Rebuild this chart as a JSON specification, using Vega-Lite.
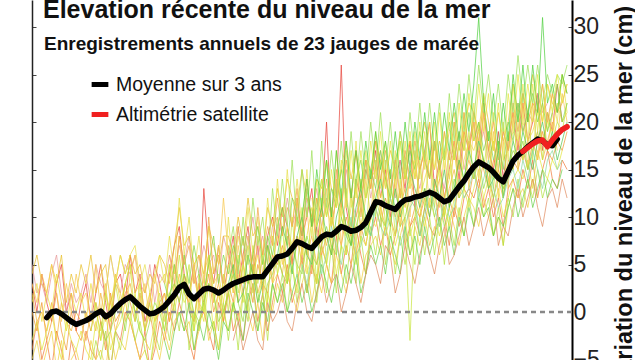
{
"$schema":"https://vega.github.io/schema/vega-lite/v6.json",
"width":540,"height":360,
"autosize":{"type":"none"},
"padding":{"left":32,"top":0,"right":63,"bottom":0},
"background":"white",
"config":{"view":{"stroke":null},"font":"Liberation Sans"},
"datasets":{
"gauges":[
{"g":"a","1900":3,"1901":0,"1902":4,"1903":1,"1904":-1,"1905":3,"1906":5,"1907":0,"1908":2,"1909":-2,"1910":1,"1911":3,"1912":-1,"1913":2,"1914":5,"1915":1,"1916":-2,"1917":3,"1918":4,"1919":1,"1920":6,"1921":2,"1922":4,"1923":-1,"1924":1,"1925":5,"1926":3,"1927":0,"1928":4,"1929":7,"1930":9,"1931":4,"1932":2,"1933":5,"1934":1,"1935":13,"1936":6,"1937":3,"1938":7,"1939":2,"1940":5,"1941":8,"1942":3,"1943":6,"1944":9,"1945":4,"1946":7,"1947":2,"1948":8,"1949":10,"1950":7,"1951":11,"1952":9,"1953":5,"1954":12,"1955":8,"1956":10,"1957":13,"1958":7,"1959":11,"1960":20,"1961":9,"1962":12,"1963":26,"1964":11,"1965":8,"1966":14,"1967":12,"1968":15,"1969":13,"1970":17,"1971":12,"1972":15,"1973":10,"1974":14,"1975":16,"1976":13,"1977":18,"1978":11,"1979":15,"1980":17,"1981":20,"1982":13,"1983":16,"1984":12,"1985":15,"1986":18,"1987":14,"1988":19,"1989":17,"1990":20,"1991":16,"1992":21,"1993":17,"1994":15,"1995":19,"1996":14,"1997":18,"1998":21,"1999":17,"2000":22,"2001":18,"2002":20,"2003":23,"2004":17,"2005":21,"2006":19,"2007":24,"2008":20},
{"g":"b","1900":-4,"1901":-1,"1902":-5,"1903":-3,"1904":-6,"1905":-2,"1906":-4,"1907":-7,"1908":-3,"1909":-5,"1910":-6,"1911":-2,"1912":-4,"1913":-5,"1914":-1,"1915":-3,"1916":-6,"1917":-2,"1918":-3,"1919":0,"1920":-1,"1921":-3,"1922":-5,"1923":-2,"1924":-6,"1925":-4,"1926":-1,"1927":-3,"1928":0,"1929":-2,"1930":1,"1931":-1,"1932":-3,"1933":-5,"1934":-1,"1935":0,"1936":-2,"1937":-4,"1938":1,"1939":-1,"1940":2,"1941":-2,"1942":0,"1943":-3,"1944":1,"1945":3,"1946":-1,"1947":2,"1948":-2,"1949":1,"1950":4,"1951":2,"1952":5,"1953":1,"1954":3,"1955":6,"1956":2,"1957":5,"1958":3,"1959":7,"1960":5,"1961":3,"1962":8,"1963":4,"1964":7,"1965":5,"1966":9,"1967":6,"1968":4,"1969":8,"1970":10,"1971":7,"1972":9,"1973":6,"1974":8,"1975":11,"1976":7,"1977":9,"1978":10,"1979":8,"1980":11,"1981":9,"1982":8,"1983":12,"1984":10,"1985":7,"1986":11,"1987":9,"1988":12,"1989":13,"1990":12,"1991":14,"1992":11,"1993":13,"1994":10,"1995":12,"1996":9,"1997":13,"1998":14,"1999":12,"2000":15,"2001":13,"2002":16,"2003":12,"2004":15,"2005":17,"2006":14,"2007":13,"2008":16,"2009":15},
{"g":"c","1900":5,"1901":2,"1902":3,"1903":1,"1904":4,"1905":6,"1906":2,"1907":0,"1908":3,"1909":1,"1910":2,"1911":4,"1912":1,"1913":5,"1914":3,"1915":2,"1916":6,"1917":3,"1918":2,"1919":5,"1920":4,"1921":6,"1922":3,"1923":2,"1924":5,"1925":1,"1926":4,"1927":3,"1928":6,"1929":4,"1930":7,"1931":5,"1932":8,"1933":3,"1934":4,"1935":7,"1936":5,"1937":6,"1938":3,"1939":8,"1940":6,"1941":4,"1942":9,"1943":5,"1944":7,"1945":10,"1946":6,"1947":8,"1948":5,"1949":9,"1950":10,"1951":8,"1952":12,"1953":9,"1954":11,"1955":8,"1956":12,"1957":10,"1958":13,"1959":9,"1960":12,"1961":10,"1962":14,"1963":11,"1964":15,"1965":12,"1966":10,"1967":13,"1968":16,"1969":12,"1970":15,"1971":17,"1972":13,"1973":15,"1974":12,"1975":16,"1976":14,"1977":17,"1978":15,"1979":13,"1980":16,"1981":14,"1982":18,"1983":15,"1984":13,"1985":17,"1986":16,"1987":19,"1988":15,"1989":18,"1990":20,"1991":17,"1992":19,"1993":16,"1994":18,"1995":15,"1996":19,"1997":17,"1998":20,"1999":22,"2000":19,"2001":21,"2002":20,"2003":23,"2004":21,"2005":22},
{"g":"d","1900":0,"1901":-2,"1902":1,"1903":-3,"1904":-1,"1905":2,"1906":-2,"1907":-4,"1908":0,"1909":-2,"1910":-3,"1911":0,"1912":-2,"1913":1,"1914":-1,"1915":-4,"1916":2,"1917":-1,"1918":0,"1919":3,"1920":1,"1921":-1,"1922":2,"1923":-2,"1924":0,"1925":-3,"1926":1,"1927":2,"1928":-1,"1929":3,"1930":1,"1931":4,"1932":0,"1933":-1,"1934":3,"1935":1,"1936":4,"1937":0,"1938":2,"1939":-1,"1940":3,"1941":1,"1942":5,"1943":2,"1944":4,"1945":1,"1946":5,"1947":3,"1948":2,"1949":6,"1950":5,"1951":7,"1952":4,"1953":6,"1954":8,"1955":5,"1956":7,"1957":4,"1958":9,"1959":6,"1960":8,"1961":6,"1962":9,"1963":7,"1964":10,"1965":8,"1966":6,"1967":9,"1968":7,"1969":10,"1970":11,"1971":9,"1972":12,"1973":10,"1974":8,"1975":11,"1976":13,"1977":9,"1978":11,"1979":10,"1980":12,"1981":10,"1982":13,"1983":9,"1984":11,"1985":12,"1986":10,"1987":14,"1988":13,"1989":12,"1990":15,"1991":13,"1992":16,"1993":14,"1994":12,"1995":15,"1996":13,"1997":14,"1998":16,"1999":15,"2000":17,"2001":15,"2002":18,"2003":16,"2004":19,"2005":17,"2006":16,"2007":18,"2008":17,"2009":19},
{"g":"e","1900":2,"1901":-1,"1902":0,"1903":-2,"1904":1,"1905":-3,"1906":1,"1907":-1,"1908":-2,"1909":0,"1910":-1,"1911":-3,"1912":0,"1913":-2,"1914":2,"1915":-1,"1916":1,"1917":-2,"1918":0,"1919":2,"1920":3,"1921":0,"1922":1,"1923":-2,"1924":2,"1925":-1,"1926":0,"1927":2,"1928":-1,"1929":1,"1930":4,"1931":2,"1932":1,"1933":-1,"1934":3,"1935":2,"1936":5,"1937":1,"1938":3,"1939":0,"1940":2,"1941":4,"1942":1,"1943":5,"1944":3,"1945":6,"1946":2,"1947":4,"1948":7,"1949":3,"1950":6,"1951":4,"1952":8,"1953":5,"1954":7,"1955":9,"1956":6,"1957":8,"1958":5,"1959":9,"1960":7,"1961":10,"1962":8,"1963":11,"1964":9,"1965":7,"1966":10,"1967":12,"1968":8,"1969":10,"1970":13,"1971":11,"1972":9,"1973":12,"1974":10,"1975":13,"1976":11,"1977":14,"1978":12,"1979":10,"1980":13,"1981":11,"1982":12,"1983":14,"1984":10,"1985":13,"1986":15,"1987":12,"1988":14,"1989":16,"1990":14,"1991":17,"1992":15,"1993":13,"1994":16,"1995":14,"1996":12,"1997":16,"1998":15,"1999":18,"2000":16,"2001":18,"2002":17,"2003":19,"2004":16,"2005":18,"2006":20,"2007":17},
{"g":"f","1900":4,"1901":6,"1902":3,"1903":2,"1904":5,"1905":3,"1906":6,"1907":1,"1908":4,"1909":2,"1910":5,"1911":3,"1912":6,"1913":2,"1914":4,"1915":5,"1916":1,"1917":3,"1918":6,"1919":4,"1920":6,"1921":4,"1922":5,"1923":2,"1924":4,"1925":3,"1926":6,"1927":5,"1928":3,"1929":7,"1930":11,"1931":7,"1932":8,"1933":5,"1934":6,"1935":4,"1936":9,"1937":7,"1938":5,"1939":8,"1940":8,"1941":6,"1942":10,"1943":7,"1944":12,"1945":8,"1946":9,"1947":6,"1948":11,"1949":9,"1950":13,"1951":10,"1952":14,"1953":12,"1954":11,"1955":15,"1956":12,"1957":10,"1958":14,"1959":13,"1960":16,"1961":13,"1962":12,"1963":15,"1964":18,"1965":14,"1966":17,"1967":13,"1968":16,"1969":15,"1970":18,"1971":16,"1972":14,"1973":17,"1974":15,"1975":19,"1976":16,"1977":18,"1978":14,"1979":17,"1980":20,"1981":17,"1982":15,"1983":18,"1984":16,"1985":19,"1986":21,"1987":17,"1988":19,"1989":22,"1990":21,"1991":19,"1992":23,"1993":20,"1994":17,"1995":21,"1996":18,"1997":20,"1998":24,"1999":21,"2000":23,"2001":21,"2002":25,"2003":22,"2004":20,"2005":24,"2006":22,"2007":21,"2008":25,"2009":23},
{"g":"g","1900":-5,"1901":-3,"1902":-6,"1903":-4,"1904":-2,"1905":-6,"1906":-3,"1907":-7,"1908":-5,"1909":-4,"1910":-6,"1911":-7,"1912":-3,"1913":-5,"1914":-4,"1915":-6,"1916":-2,"1917":-5,"1918":-3,"1919":-4,"1920":-1,"1921":-3,"1922":-5,"1923":-4,"1924":-6,"1925":-3,"1926":-5,"1927":-2,"1928":-4,"1929":-1,"1930":0,"1931":-2,"1932":-1,"1933":-4,"1934":-2,"1935":1,"1936":-3,"1937":-1,"1938":-4,"1939":0,"1940":-2,"1941":1,"1942":-1,"1943":2,"1944":0,"1945":-2,"1946":1,"1947":-3,"1948":2,"1949":0,"1950":3,"1951":1,"1952":4,"1953":2,"1954":0,"1955":3,"1956":5,"1957":1,"1958":4,"1959":2,"1960":5,"1961":3,"1962":6,"1963":4,"1964":2,"1965":5,"1966":7,"1967":3,"1968":6,"1969":7,"1970":8,"1971":6,"1972":9,"1973":7,"1974":5,"1975":8,"1976":10,"1977":6,"1978":9,"1979":7,"1980":10,"1981":7,"1982":9,"1983":6,"1984":8,"1985":11,"1986":9,"1987":7,"1988":10,"1989":12,"1990":11,"1991":9,"1992":12,"1993":10,"1994":8,"1995":10,"1996":7,"1997":11,"1998":13,"1999":12,"2000":13,"2001":11,"2002":14,"2003":12},
{"g":"h","1900":1,"1901":3,"1902":-1,"1903":2,"1904":0,"1905":4,"1906":1,"1907":-2,"1908":2,"1909":0,"1910":2,"1911":-1,"1912":3,"1913":0,"1914":-2,"1915":2,"1916":0,"1917":4,"1918":1,"1919":3,"1920":5,"1921":2,"1922":3,"1923":0,"1924":2,"1925":-1,"1926":3,"1927":4,"1928":1,"1929":5,"1930":3,"1931":6,"1932":2,"1933":4,"1934":1,"1935":0,"1936":6,"1937":3,"1938":4,"1939":1,"1940":5,"1941":2,"1942":6,"1943":3,"1944":7,"1945":4,"1946":6,"1947":2,"1948":7,"1949":5,"1950":8,"1951":6,"1952":9,"1953":7,"1954":10,"1955":6,"1956":8,"1957":11,"1958":7,"1959":9,"1960":11,"1961":9,"1962":12,"1963":10,"1964":8,"1965":11,"1966":13,"1967":9,"1968":12,"1969":14,"1970":15,"1971":12,"1972":14,"1973":11,"1974":13,"1975":10,"1976":15,"1977":13,"1978":16,"1979":12,"1980":14,"1981":16,"1982":13,"1983":15,"1984":12,"1985":14,"1986":17,"1987":13,"1988":16,"1989":18,"1990":17,"1991":19,"1992":16,"1993":15,"1994":18,"1995":14,"1996":16,"1997":17,"1998":19,"1999":18,"2000":20,"2001":18,"2002":19,"2003":21,"2004":18,"2005":20,"2006":19,"2007":22,"2008":20,"2009":21},
{"g":"i","1900":-3,"1901":-1,"1902":-4,"1903":-2,"1904":0,"1905":-3,"1906":-5,"1907":-1,"1908":-3,"1909":-4,"1910":-2,"1911":-4,"1912":-5,"1913":-1,"1914":-3,"1915":0,"1916":-4,"1917":-2,"1918":-1,"1919":1,"1920":-1,"1921":2,"1922":-2,"1923":-3,"1924":-4,"1925":-1,"1926":1,"1927":-2,"1928":2,"1929":0,"1930":3,"1931":1,"1932":2,"1933":-2,"1934":1,"1935":-1,"1936":3,"1937":-2,"1938":2,"1939":0,"1940":2,"1941":0,"1942":4,"1943":1,"1944":3,"1945":5,"1946":1,"1947":4,"1948":0,"1949":3,"1950":4,"1951":6,"1952":3,"1953":5,"1954":2,"1955":7,"1956":4,"1957":6,"1958":3,"1959":7,"1960":5,"1961":8,"1962":4,"1963":7,"1964":6,"1965":9,"1966":5,"1967":8,"1968":7,"1969":10,"1970":9,"1971":11,"1972":8,"1973":10,"1974":7,"1975":9,"1976":12,"1977":8,"1978":10,"1979":11,"1980":9,"1981":12,"1982":10,"1983":8,"1984":11,"1985":9,"1986":12,"1987":10,"1988":13,"1989":11,"1990":13,"1991":15,"1992":12,"1993":14,"1994":11,"1995":13,"1996":10,"1997":12,"1998":14,"1999":15,"2000":14,"2001":16,"2002":13,"2003":17,"2004":15,"2005":14,"2006":16,"2007":15,"2008":17},
{"g":"j","1900":3,"1901":1,"1902":4,"1903":2,"1904":5,"1905":2,"1906":-1,"1907":3,"1908":0,"1909":4,"1910":1,"1911":2,"1912":-1,"1913":5,"1914":0,"1915":3,"1916":-2,"1917":4,"1918":2,"1919":-1,"1920":4,"1921":6,"1922":1,"1923":3,"1924":-1,"1925":4,"1926":1,"1927":-1,"1928":5,"1929":2,"1930":8,"1931":3,"1932":1,"1933":5,"1934":0,"1935":4,"1936":6,"1937":1,"1938":5,"1939":12,"1940":6,"1941":2,"1942":7,"1943":3,"1944":6,"1945":2,"1946":8,"1947":4,"1948":7,"1949":3,"1950":10,"1951":5,"1952":9,"1953":6,"1954":12,"1955":6,"1956":11,"1957":5,"1958":12,"1959":7,"1960":13,"1961":6,"1962":14,"1963":7,"1964":13,"1965":8,"1966":14,"1967":8,"1968":14,"1969":10,"1970":16,"1971":10,"1972":16,"1973":9,"1974":15,"1975":9,"1976":16,"1977":10,"1978":17,"1979":11,"1980":17,"1981":11,"1982":18,"1983":11,"1984":17,"1985":11,"1986":18,"1987":12,"1988":19,"1989":13,"1990":20,"1991":14,"1992":21,"1993":13,"1994":19,"1995":12,"1996":18,"1997":13,"1998":21,"1999":15,"2000":22,"2001":15,"2002":22,"2003":16,"2004":22,"2005":17,"2006":21,"2007":18,"2008":23,"2009":20},
{"g":"k","1912":-2,"1913":1,"1914":-3,"1915":2,"1916":-1,"1917":3,"1918":0,"1919":3,"1920":5,"1921":-1,"1922":3,"1923":-2,"1924":1,"1925":-2,"1926":2,"1927":0,"1928":5,"1929":1,"1930":6,"1931":2,"1932":5,"1933":-2,"1934":4,"1935":0,"1936":6,"1937":2,"1938":-2,"1939":4,"1940":0,"1941":6,"1942":2,"1943":5,"1944":0,"1945":7,"1946":3,"1947":6,"1948":1,"1949":8,"1950":4,"1951":9,"1952":3,"1953":10,"1954":4,"1955":11,"1956":5,"1957":10,"1958":3,"1959":12,"1960":5,"1961":11,"1962":6,"1963":13,"1964":6,"1965":13,"1966":7,"1967":14,"1968":8,"1969":15,"1970":10,"1971":16,"1972":9,"1973":15,"1974":8,"1975":14,"1976":9,"1977":-3,"1978":10,"1979":16,"1980":11,"1981":17,"1982":11,"1983":16,"1984":10,"1985":17,"1986":12,"1987":18,"1988":13,"1989":19,"1990":14,"1991":20,"1992":15,"1993":19,"1994":13,"1995":18,"1996":12,"1997":19,"1998":15,"1999":21,"2000":16,"2001":21,"2002":16,"2003":22,"2004":16,"2005":21,"2006":18,"2007":20,"2008":19,"2009":22},
{"g":"l","1912":-6,"1913":-3,"1914":-5,"1915":-2,"1916":-6,"1917":-2,"1918":-4,"1919":-1,"1920":0,"1921":-3,"1922":-1,"1923":-4,"1924":-6,"1925":-2,"1926":-4,"1927":0,"1928":-3,"1929":1,"1930":-2,"1931":3,"1932":-4,"1933":0,"1934":-2,"1935":2,"1936":-2,"1937":-1,"1938":-4,"1939":1,"1940":-3,"1941":1,"1942":-4,"1943":2,"1944":-1,"1945":3,"1946":-2,"1947":2,"1948":-3,"1949":3,"1950":1,"1951":4,"1952":0,"1953":5,"1954":1,"1955":5,"1956":2,"1957":6,"1958":1,"1959":6,"1960":2,"1961":7,"1962":2,"1963":7,"1964":3,"1965":8,"1966":3,"1967":8,"1968":4,"1969":9,"1970":6,"1971":10,"1972":5,"1973":9,"1974":4,"1975":8,"1976":5,"1977":9,"1978":5,"1979":10,"1980":6,"1981":10,"1982":6,"1983":10,"1984":5,"1985":10,"1986":7,"1987":11,"1988":8,"1989":12,"1990":9,"1991":13,"1992":10,"1993":12,"1994":8,"1995":11,"1996":7,"1997":12,"1998":10,"1999":14,"2000":11,"2001":14,"2002":12,"2003":15,"2004":12,"2005":14,"2006":13},
{"g":"m","1914":5,"1915":2,"1916":6,"1917":3,"1918":6,"1919":4,"1920":6,"1921":7,"1922":3,"1923":5,"1924":2,"1925":4,"1926":6,"1927":3,"1928":8,"1929":4,"1930":12,"1931":6,"1932":10,"1933":4,"1934":8,"1935":3,"1936":9,"1937":4,"1938":7,"1939":2,"1940":10,"1941":4,"1942":8,"1943":5,"1944":11,"1945":6,"1946":10,"1947":5,"1948":12,"1949":7,"1950":14,"1951":8,"1952":15,"1953":9,"1954":14,"1955":9,"1956":15,"1957":8,"1958":14,"1959":10,"1960":16,"1961":9,"1962":17,"1963":10,"1964":17,"1965":11,"1966":18,"1967":11,"1968":17,"1969":13,"1970":19,"1971":13,"1972":18,"1973":12,"1974":17,"1975":12,"1976":18,"1977":13,"1978":19,"1979":14,"1980":19,"1981":14,"1982":20,"1983":14,"1984":19,"1985":14,"1986":20,"1987":15,"1988":21,"1989":16,"1990":22,"1991":17,"1992":23,"1993":16,"1994":21,"1995":15,"1996":20,"1997":16,"1998":24,"1999":18,"2000":24,"2001":18,"2002":24,"2003":19,"2004":24,"2005":19,"2006":23,"2007":20,"2008":25,"2009":21},
{"g":"n","1914":-1,"1915":-3,"1916":-2,"1917":0,"1918":1,"1919":-2,"1920":2,"1921":0,"1922":-2,"1923":-3,"1924":-1,"1925":1,"1926":0,"1927":-2,"1928":2,"1929":3,"1930":1,"1931":4,"1932":2,"1933":0,"1934":-1,"1935":1,"1936":3,"1937":2,"1938":-1,"1939":0,"1940":2,"1941":4,"1942":1,"1943":-1,"1944":3,"1945":5,"1946":2,"1947":0,"1948":3,"1949":4,"1950":6,"1951":4,"1952":3,"1953":7,"1954":5,"1955":4,"1956":8,"1957":6,"1958":5,"1959":7,"1960":9,"1961":7,"1962":6,"1963":10,"1964":8,"1965":7,"1966":9,"1967":11,"1968":8,"1969":10,"1970":12,"1971":10,"1972":9,"1973":13,"1974":11,"1975":9,"1976":10,"1977":12,"1978":11,"1979":8,"1980":11,"1981":13,"1982":10,"1983":12,"1984":9,"1985":11,"1986":14,"1987":12,"1988":13,"1989":15,"1990":14,"1991":16,"1992":13,"1993":15,"1994":12,"1995":14,"1996":13,"1997":15,"1998":17,"1999":16,"2000":18,"2001":15,"2002":17,"2003":19},
{"g":"o","1927":3,"1928":1,"1929":5,"1930":2,"1931":6,"1932":3,"1933":7,"1934":4,"1935":2,"1936":5,"1937":8,"1938":3,"1939":6,"1940":4,"1941":7,"1942":5,"1943":8,"1944":3,"1945":6,"1946":9,"1947":5,"1948":8,"1949":6,"1950":9,"1951":11,"1952":7,"1953":12,"1954":10,"1955":8,"1956":13,"1957":9,"1958":11,"1959":14,"1960":10,"1961":13,"1962":11,"1963":15,"1964":12,"1965":9,"1966":14,"1967":16,"1968":12,"1969":15,"1970":13,"1971":17,"1972":14,"1973":12,"1974":16,"1975":18,"1976":14,"1977":17,"1978":15,"1979":19,"1980":16,"1981":14,"1982":18,"1983":15,"1984":17,"1985":20,"1986":16,"1987":19,"1988":17,"1989":21,"1990":18,"1991":20,"1992":17,"1993":19,"1994":16,"1995":18,"1996":15,"1997":20,"1998":18,"1999":22,"2000":19,"2001":21,"2002":23,"2003":20,"2004":22,"2005":19,"2006":21,"2007":24,"2008":20,"2009":22},
{"g":"p","1927":-3,"1928":-5,"1929":-2,"1930":0,"1931":-2,"1932":1,"1933":-4,"1934":-1,"1935":-3,"1936":0,"1937":-2,"1938":-5,"1939":-1,"1940":-2,"1941":1,"1942":-1,"1943":-3,"1944":2,"1945":0,"1946":-2,"1947":1,"1948":-1,"1949":3,"1950":1,"1951":3,"1952":0,"1953":2,"1954":4,"1955":1,"1956":3,"1957":0,"1958":2,"1959":5,"1960":3,"1961":1,"1962":4,"1963":2,"1964":5,"1965":3,"1966":6,"1967":2,"1968":4,"1969":7,"1970":5,"1971":7,"1972":4,"1973":8,"1974":6,"1975":4,"1976":9,"1977":6,"1978":8,"1979":5,"1980":9,"1981":6,"1982":8,"1983":10,"1984":7,"1985":9,"1986":6,"1987":10,"1988":8,"1989":11,"1990":9,"1991":12,"1992":10,"1993":11,"1994":8,"1995":10,"1996":9,"1997":11,"1998":13,"1999":10,"2000":12,"2001":14,"2002":11,"2003":13,"2004":15,"2005":12,"2006":14,"2007":13,"2008":15},
{"g":"q","1928":6,"1929":3,"1930":8,"1931":5,"1932":7,"1933":3,"1934":6,"1935":2,"1936":10,"1937":4,"1938":6,"1939":3,"1940":7,"1941":4,"1942":9,"1943":5,"1944":8,"1945":4,"1946":11,"1947":6,"1948":9,"1949":7,"1950":12,"1951":8,"1952":11,"1953":9,"1954":13,"1955":7,"1956":14,"1957":9,"1958":12,"1959":10,"1960":14,"1961":10,"1962":15,"1963":11,"1964":16,"1965":12,"1966":17,"1967":10,"1968":16,"1969":13,"1970":18,"1971":14,"1972":17,"1973":13,"1974":16,"1975":12,"1976":17,"1977":14,"1978":18,"1979":15,"1980":17,"1981":14,"1982":18,"1983":15,"1984":19,"1985":16,"1986":20,"1987":15,"1988":21,"1989":17,"1990":21,"1991":18,"1992":22,"1993":17,"1994":20,"1995":16,"1996":19,"1997":17,"1998":22,"1999":19,"2000":23,"2001":20,"2002":22,"2003":21,"2004":24,"2005":20,"2006":23,"2007":21,"2008":22,"2009":24},
{"g":"r","1940":3,"1941":5,"1942":1,"1943":2,"1944":6,"1945":4,"1946":1,"1947":3,"1948":7,"1949":5,"1950":6,"1951":9,"1952":7,"1953":4,"1954":8,"1955":10,"1956":6,"1957":5,"1958":9,"1959":11,"1960":8,"1961":6,"1962":10,"1963":12,"1964":9,"1965":7,"1966":11,"1967":13,"1968":10,"1969":8,"1970":12,"1971":14,"1972":11,"1973":9,"1974":13,"1975":10,"1976":12,"1977":15,"1978":13,"1979":11,"1980":13,"1981":10,"1982":14,"1983":12,"1984":15,"1985":11,"1986":13,"1987":16,"1988":14,"1989":17,"1990":15,"1991":18,"1992":16,"1993":13,"1994":14,"1995":17,"1996":12,"1997":15,"1998":18,"1999":16,"2000":19,"2001":17,"2002":15,"2003":18,"2004":20,"2005":17,"2006":19,"2007":16,"2008":18,"2009":20},
{"g":"s","1940":6,"1941":9,"1942":4,"1943":10,"1944":5,"1945":12,"1946":7,"1947":10,"1948":5,"1949":13,"1950":8,"1951":14,"1952":9,"1953":16,"1954":9,"1955":15,"1956":10,"1957":17,"1958":9,"1959":18,"1960":11,"1961":17,"1962":12,"1963":18,"1964":12,"1965":19,"1966":13,"1967":19,"1968":14,"1969":20,"1970":15,"1971":21,"1972":15,"1973":20,"1974":14,"1975":19,"1976":15,"1977":21,"1978":16,"1979":22,"1980":16,"1981":22,"1982":17,"1983":22,"1984":16,"1985":23,"1986":18,"1987":24,"1988":19,"1989":25,"1990":20,"1991":26,"1992":21,"1993":25,"1994":20,"1995":24,"1996":19,"1997":25,"1998":21,"1999":27,"2000":22,"2001":26,"2002":22,"2003":26,"2004":22,"2005":25,"2006":23,"2007":25,"2008":24,"2009":26},
{"g":"t","1941":-3,"1942":-1,"1943":-4,"1944":-2,"1945":0,"1946":-3,"1947":-4,"1948":1,"1949":-1,"1950":0,"1951":2,"1952":-1,"1953":-2,"1954":1,"1955":3,"1956":0,"1957":-1,"1958":2,"1959":4,"1960":1,"1961":3,"1962":4,"1963":0,"1964":2,"1965":5,"1966":3,"1967":1,"1968":4,"1969":6,"1970":5,"1971":3,"1972":7,"1973":6,"1974":2,"1975":4,"1976":7,"1977":5,"1978":3,"1979":6,"1980":8,"1981":6,"1982":4,"1983":7,"1984":9,"1985":5,"1986":6,"1987":8,"1988":10,"1989":7,"1990":9,"1991":11,"1992":8,"1993":10,"1994":12,"1995":7,"1996":9,"1997":8,"1998":11,"1999":13,"2000":10,"2001":12,"2002":14,"2003":11,"2004":9,"2005":12,"2006":13,"2007":11,"2008":14,"2009":12},
{"g":"u","1955":10,"1956":14,"1957":9,"1958":15,"1959":11,"1960":16,"1961":10,"1962":17,"1963":12,"1964":18,"1965":12,"1966":17,"1967":13,"1968":18,"1969":14,"1970":19,"1971":15,"1972":18,"1973":14,"1974":19,"1975":14,"1976":20,"1977":15,"1978":20,"1979":16,"1980":21,"1981":16,"1982":21,"1983":16,"1984":21,"1985":17,"1986":22,"1987":18,"1988":23,"1989":19,"1990":24,"1991":31,"1992":22,"1993":18,"1994":23,"1995":17,"1996":22,"1997":18,"1998":25,"1999":20,"2000":26,"2001":20,"2002":26,"2003":21,"2004":31,"2005":22,"2006":24,"2007":21,"2008":25,"2009":23},
{"g":"v","1955":5,"1956":3,"1957":6,"1958":8,"1959":4,"1960":6,"1961":9,"1962":7,"1963":5,"1964":8,"1965":10,"1966":6,"1967":7,"1968":9,"1969":8,"1970":11,"1971":9,"1972":8,"1973":12,"1974":10,"1975":7,"1976":9,"1977":11,"1978":12,"1979":8,"1980":10,"1981":13,"1982":11,"1983":9,"1984":12,"1985":10,"1986":11,"1987":14,"1988":12,"1989":13,"1990":15,"1991":12,"1992":14,"1993":16,"1994":13,"1995":11,"1996":12,"1997":14,"1998":15,"1999":13,"2000":16,"2001":14,"2002":17,"2003":15,"2004":13,"2005":16,"2006":17,"2007":15,"2008":16},
{"g":"w","1957":12,"1958":9,"1959":14,"1960":10,"1961":15,"1962":11,"1963":16,"1964":11,"1965":17,"1966":12,"1967":17,"1968":12,"1969":18,"1970":14,"1971":19,"1972":13,"1973":18,"1974":13,"1975":18,"1976":14,"1977":19,"1978":14,"1979":20,"1980":15,"1981":20,"1982":15,"1983":21,"1984":15,"1985":21,"1986":16,"1987":22,"1988":17,"1989":23,"1990":18,"1991":24,"1992":19,"1993":23,"1994":17,"1995":22,"1996":16,"1997":23,"1998":19,"1999":25,"2000":20,"2001":24,"2002":20,"2003":25,"2004":20,"2005":24,"2006":21,"2007":25,"2008":22,"2009":24}
],
"main":[
{"s":"Moyenne sur 3 ans","1903":-0.6,"1904":0.0,"1905":0.1,"1906":-0.2,"1907":-0.6,"1908":-1.0,"1909":-1.3,"1910":-1.1,"1911":-0.9,"1912":-0.6,"1913":-0.2,"1914":0.1,"1915":-0.5,"1916":-0.2,"1917":0.4,"1918":0.9,"1919":1.3,"1920":1.6,"1921":1.1,"1922":0.6,"1923":0.2,"1924":-0.2,"1925":-0.1,"1926":0.2,"1927":0.6,"1928":1.2,"1929":1.8,"1930":2.6,"1931":2.9,"1932":1.9,"1933":1.4,"1934":1.9,"1935":2.4,"1936":2.5,"1937":2.3,"1938":2.0,"1939":2.3,"1940":2.7,"1941":3.0,"1942":3.2,"1943":3.4,"1944":3.6,"1945":3.7,"1946":3.7,"1947":3.7,"1948":4.4,"1949":5.1,"1950":5.8,"1951":5.9,"1952":6.1,"1953":6.7,"1954":7.4,"1955":7.2,"1956":6.9,"1957":6.7,"1958":7.3,"1959":7.9,"1960":8.2,"1961":8.1,"1962":8.5,"1963":9.0,"1964":8.8,"1965":8.5,"1966":8.6,"1967":8.9,"1968":9.4,"1969":10.5,"1970":11.6,"1971":11.5,"1972":11.2,"1973":11.0,"1974":10.8,"1975":11.4,"1976":11.8,"1977":11.9,"1978":12.1,"1979":12.2,"1980":12.4,"1981":12.6,"1982":12.4,"1983":12.0,"1984":11.6,"1985":11.8,"1986":12.5,"1987":13.2,"1988":13.8,"1989":14.6,"1990":15.3,"1991":15.8,"1992":15.5,"1993":15.2,"1994":14.7,"1995":14.1,"1996":13.7,"1997":14.8,"1998":15.9,"1999":16.5,"2000":16.9,"2001":17.4,"2002":17.8,"2003":18.2,"2004":18.0,"2005":17.6,"2006":17.5,"2007":18.2},
{"s":"Altimétrie satellite","2000":16.9,"2001":17.3,"2002":17.7,"2003":18.0,"2004":18.1,"2005":17.4,"2006":18.1,"2007":18.7,"2008":19.2,"2009":19.5}
]
},
"resolve":{"scale":{"color":"independent"},"axis":{"y":"independent"}},
"layer":[
{
"data":{"name":"gauges"},
"transform":[{"fold":["1900","1901","1902","1903","1904","1905","1906","1907","1908","1909","1910","1911","1912","1913","1914","1915","1916","1917","1918","1919","1920","1921","1922","1923","1924","1925","1926","1927","1928","1929","1930","1931","1932","1933","1934","1935","1936","1937","1938","1939","1940","1941","1942","1943","1944","1945","1946","1947","1948","1949","1950","1951","1952","1953","1954","1955","1956","1957","1958","1959","1960","1961","1962","1963","1964","1965","1966","1967","1968","1969","1970","1971","1972","1973","1974","1975","1976","1977","1978","1979","1980","1981","1982","1983","1984","1985","1986","1987","1988","1989","1990","1991","1992","1993","1994","1995","1996","1997","1998","1999","2000","2001","2002","2003","2004","2005","2006","2007","2008","2009"],"as":["yr","v"]}],
"mark":{"type":"line","strokeWidth":1,"opacity":0.72,"clip":true},
"encoding":{
"x":{"field":"yr","type":"quantitative","scale":{"domain":[1900,2010],"nice":false,"zero":false},"axis":null},
"y":{"field":"v","type":"quantitative","scale":{"domain":[-5.0526,32.8421],"nice":false,"zero":false},"axis":{"orient":"left","labels":false,"title":null,"grid":false,"values":[-5,0,5,10,15,20,25,30],"tickSize":-4,"tickColor":"#444","tickWidth":1,"domainColor":"#222","domainWidth":1.5}},
"color":{"field":"g","type":"nominal","scale":{"range":["#e8453c","#f07a3a","#e89a9a","#f09a30","#f4b43a","#e9c02e","#f0d040","#ecdf3e","#e2e63c","#f6c850","#c8e43e","#b4e042","#e8e050","#9cdc46","#84d64a","#6cd04c","#f0a848","#58c850","#9ee05a","#e08a60","#50d040","#8ad8a0","#e4e840"]},"legend":null}
}
},
{
"data":{"values":[{}]},
"mark":{"type":"rule","color":"#888888","strokeWidth":2.5,"strokeDash":[5,4]},
"encoding":{"y":{"datum":0,"type":"quantitative","axis":null}}
},
{
"data":{"name":"main"},
"transform":[{"fold":["1900","1901","1902","1903","1904","1905","1906","1907","1908","1909","1910","1911","1912","1913","1914","1915","1916","1917","1918","1919","1920","1921","1922","1923","1924","1925","1926","1927","1928","1929","1930","1931","1932","1933","1934","1935","1936","1937","1938","1939","1940","1941","1942","1943","1944","1945","1946","1947","1948","1949","1950","1951","1952","1953","1954","1955","1956","1957","1958","1959","1960","1961","1962","1963","1964","1965","1966","1967","1968","1969","1970","1971","1972","1973","1974","1975","1976","1977","1978","1979","1980","1981","1982","1983","1984","1985","1986","1987","1988","1989","1990","1991","1992","1993","1994","1995","1996","1997","1998","1999","2000","2001","2002","2003","2004","2005","2006","2007","2008","2009"],"as":["yr","v"]}],
"mark":{"type":"line","strokeWidth":5.5,"strokeCap":"round","strokeJoin":"round"},
"encoding":{
"x":{"field":"yr","type":"quantitative","axis":null},
"y":{"field":"v","type":"quantitative","axis":{"orient":"right","values":[-5,0,5,10,15,20,25,30],"grid":false,"tickSize":-4,"tickColor":"#444","tickWidth":1,"domainColor":"#000","domainWidth":2,"labelFont":"Liberation Sans","labelFontSize":23,"labelColor":"#222","labelPadding":5,"labelOverlap":false,"labelFlush":false,"title":"Variation du niveau de la mer (cm)","titleFont":"Liberation Sans","titleFontSize":23.5,"titleFontWeight":"bold","titleColor":"#111","titleAngle":270,"titleX":52,"titleY":196,"titleAlign":"center","titleBaseline":"middle"}},
"color":{"field":"s","type":"nominal","scale":{"domain":["Moyenne sur 3 ans","Altimétrie satellite"],"range":["#000000","#f02020"]},"legend":{"orient":"none","legendX":57,"legendY":73.5,"title":null,"padding":0,"symbolType":"stroke","symbolStrokeWidth":5,"symbolSize":280,"labelFont":"Liberation Sans","labelFontSize":19.5,"labelColor":"#111","labelOffset":5,"rowPadding":9,"labelLimit":400}}
}
},
{
"data":{"values":[{}]},
"mark":{"type":"text","text":"Élevation récente du niveau de la mer","align":"left","baseline":"alphabetic","font":"Liberation Sans","fontSize":25,"fontWeight":"bold","color":"#111"},
"encoding":{"x":{"datum":1902.24,"type":"quantitative","axis":null},"y":{"datum":30.947,"type":"quantitative","axis":null}}
},
{
"data":{"values":[{}]},
"mark":{"type":"text","text":"Enregistrements annuels de 23 jauges de marée","align":"left","baseline":"alphabetic","font":"Liberation Sans","fontSize":19,"fontWeight":"bold","color":"#111"},
"encoding":{"x":{"datum":1902.44,"type":"quantitative","axis":null},"y":{"datum":27.579,"type":"quantitative","axis":null}}
}
]
}
